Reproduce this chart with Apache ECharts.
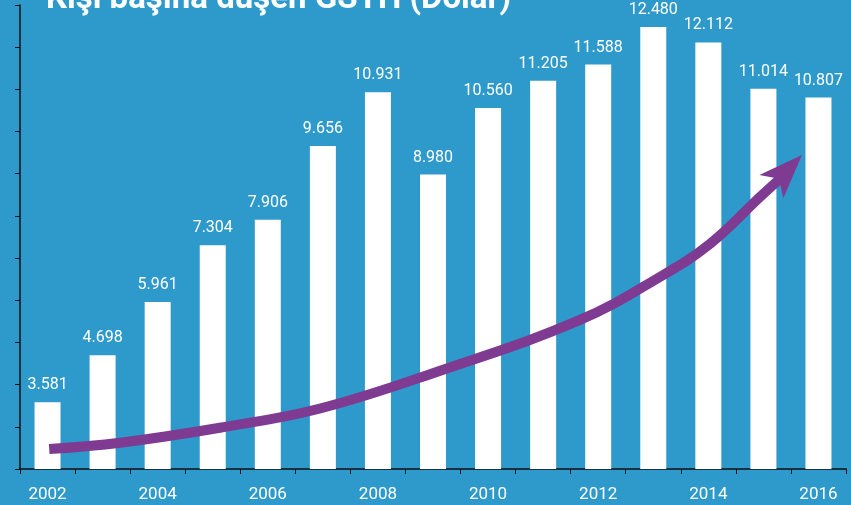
<!DOCTYPE html>
<html>
<head>
<meta charset="utf-8">
<script src="https://cdn.jsdelivr.net/npm/echarts@6/dist/echarts.min.js"></script>
<style>
html,body{margin:0;padding:0;background:#2e9acb;}
#c{width:851px;height:505px;}
</style>
</head>
<body>
<div id="c"></div>
<script>
const years = ['2002','2003','2004','2005','2006','2007','2008','2009','2010','2011','2012','2013','2014','2015','2016'];
const gdp = [3581, 4698, 5961, 7304, 7906, 9656, 10931, 8980, 10560, 11205, 11588, 12480, 12112, 11014, 10807];
// arrow shaft (fractional year, value)
const arrowX = [2002.03, 2003.32, 2005.13, 2006.95, 2009.13, 2011.67, 2013.12, 2014.03, 2014.94, 2015.41];
const arrowY = [2474, 2624, 2979, 3435, 4331, 5533, 6553, 7336, 8450, 9008];
// arrow head tip (fractional year, value)
const headX = [2015.70];
const headY = [9444];
const yTicks = {min: 2000, max: 13000, interval: 1000};
const title = 'Kişi başına düşen GSYH (Dolar)';

function fmt(v){ return String(v).replace(/\B(?=(\d{3})+(?!\d))/g, '.'); }

const chart = echarts.init(document.getElementById('c'), null, {renderer: 'canvas'});
chart.setOption({
  backgroundColor: '#2e9acb',
  animation: false,
  graphic: [{
    type: 'text', left: 46, top: -17,
    style: {text: title, fill: '#ffffff', font: 'bold 33px Roboto, "Liberation Sans", Arial, sans-serif'}
  }],
  grid: {left: 20, right: 5, top: 5, bottom: 36, containLabel: false},
  xAxis: [{
    type: 'category', data: years, boundaryGap: true,
    axisLine: {lineStyle: {color: '#111', width: 1.5}},
    axisTick: {show: true, interval: 0, length: 5, lineStyle: {color: '#111'}},
    axisLabel: {interval: 1, color: '#ffffff', fontSize: 17, fontFamily: 'Roboto, sans-serif', margin: 17}
  }, {
    type: 'value', min: 2001.5, max: 2016.5, show: false
  }],
  yAxis: {
    type: 'value', min: yTicks.min, max: yTicks.max, interval: yTicks.interval,
    axisLine: {show: true, lineStyle: {color: '#111', width: 1.5}},
    axisTick: {show: true, length: 5, lineStyle: {color: '#111'}},
    axisLabel: {show: false},
    splitLine: {show: false}
  },
  series: [{
    type: 'bar', data: gdp, barWidth: 26,
    itemStyle: {color: '#ffffff'},
    label: {show: true, position: 'top', distance: 9, color: '#ffffff', fontSize: 16,
      fontFamily: 'Roboto, sans-serif', formatter: p => fmt(p.value)}
  }, {
    type: 'line', xAxisIndex: 1, data: arrowX.map((x, i) => [x, arrowY[i]]), smooth: 0.4,
    showSymbol: false, symbol: 'none',
    lineStyle: {color: '#7f3b92', width: 10, cap: 'butt'},
    z: 5
  }, {
    type: 'scatter', xAxisIndex: 1, data: headX.map((x, i) => [x, headY[i]]),
    symbol: 'arrow', symbolSize: [25, 44], symbolRotate: -44,
    itemStyle: {color: '#7f3b92', opacity: 1},
    z: 6
  }]
});
</script>
</body>
</html>
